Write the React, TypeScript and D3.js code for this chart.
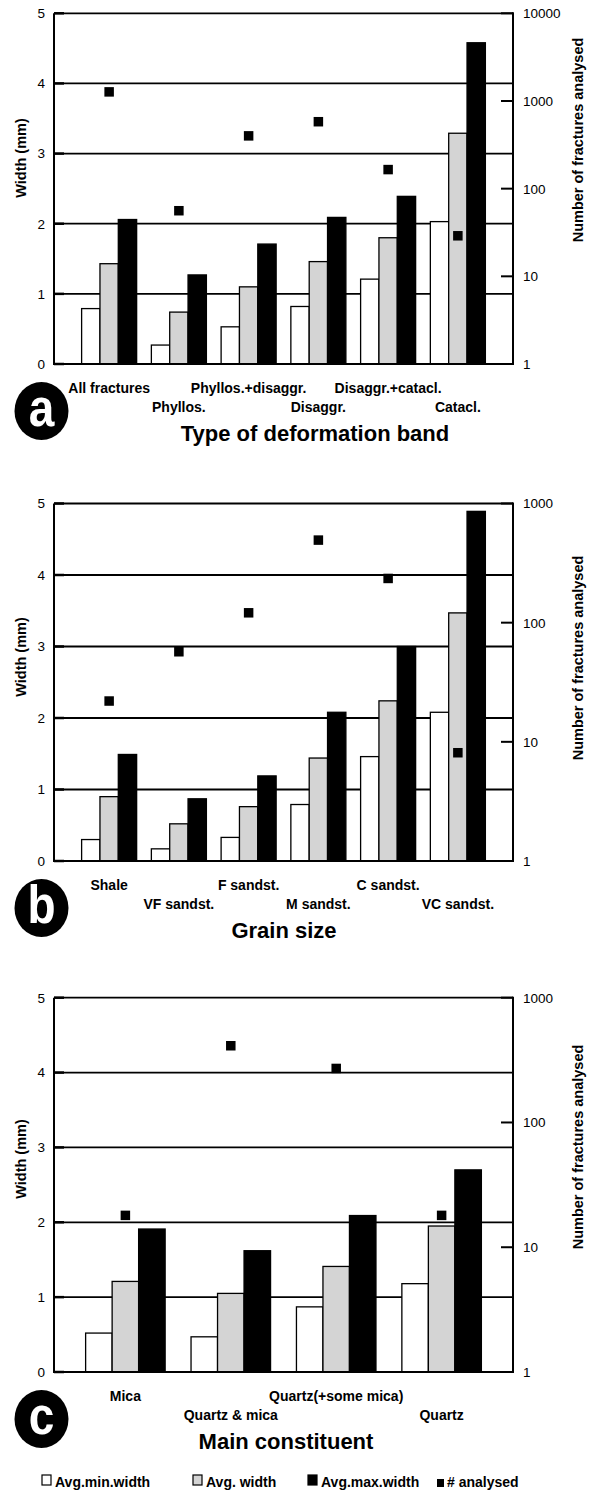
import React from "react";
import * as d3 from "d3";

// panel a: type of deformation band
const bandTypes = ["All fractures", "Phyllos.", "Phyllos.+disaggr.", "Disaggr.", "Disaggr.+catacl.", "Catacl."];
const bandMin = [0.79, 0.27, 0.53, 0.82, 1.21, 2.03];
const bandAvg = [1.43, 0.74, 1.1, 1.46, 1.8, 3.29];
const bandMax = [2.06, 1.27, 1.71, 2.09, 2.39, 4.58];
const bandCount = [1270, 56, 400, 580, 165, 29];

// panel b: grain size
const grainSizes = ["Shale", "VF sandst.", "F sandst.", "M sandst.", "C sandst.", "VC sandst."];
const grainMin = [0.3, 0.17, 0.33, 0.79, 1.46, 2.08];
const grainAvg = [0.9, 0.52, 0.76, 1.44, 2.24, 3.47];
const grainMax = [1.49, 0.87, 1.19, 2.08, 3.0, 4.89];
const grainCount = [22, 57, 121, 493, 235, 8.1];

// panel c: main constituent
const constituents = ["Mica", "Quartz & mica", "Quartz(+some mica)", "Quartz"];
const constMin = [0.52, 0.47, 0.87, 1.18];
const constAvg = [1.21, 1.05, 1.41, 1.95];
const constMax = [1.91, 1.62, 2.09, 2.7];
const constCount = [18, 412, 271, 18];

const seriesNames = ["Avg.min.width", "Avg. width", "Avg.max.width", "# analysed"];
const seriesFills = ["#ffffff", "#d4d4d4", "#000000"];
const widthTicks = [0, 1, 2, 3, 4, 5];
const countTicks4 = [1, 10, 100, 1000, 10000];
const countTicks3 = [1, 10, 100, 1000];

const FONT = "'Liberation Sans', Arial, Helvetica, sans-serif";
const X0 = 54;
const X1 = 513;

function Panel(props: any) {
  const { cats, mins, avgs, maxs, counts, top, bottom, cTicks, pi, po, title, titleX, letter, leftTitleY, rightTitleY } = props;
  const x = d3.scaleBand().domain(cats).range([X0, X1]).paddingInner(pi).paddingOuter(po);
  const inner = d3.scaleBand().domain(["0", "1", "2"]).range([0, x.bandwidth()]);
  const y = d3.scaleLinear().domain([0, 5]).range([bottom, top]);
  const yR = d3.scaleLog().domain([1, cTicks[cTicks.length - 1]]).range([bottom, top]);
  const series = [mins, avgs, maxs];
  const cx = (c: string) => (x(c) as number) + x.bandwidth() / 2;
  const m = 9.5;
  const cy = bottom + 47;

  return (
    <g fontFamily={FONT}>
      {widthTicks.slice(1).map((t) => (
        <line key={"g" + t} x1={X0} x2={X1} y1={y(t)} y2={y(t)} stroke="#000" strokeWidth={1.8} />
      ))}
      {cats.map((c: string, i: number) =>
        series.map((s: number[], k: number) => (
          <rect
            key={c + k}
            x={(x(c) as number) + (inner(String(k)) as number)}
            y={y(s[i])}
            width={inner.bandwidth()}
            height={bottom - y(s[i])}
            fill={seriesFills[k]}
            stroke="#000"
            strokeWidth={1.3}
          />
        ))
      )}
      {cats.map((c: string, i: number) => (
        <rect key={"m" + c} x={cx(c) - m / 2} y={yR(counts[i]) - m / 2} width={m} height={m} fill="#000" />
      ))}
      <line x1={X0} x2={X0} y1={top} y2={bottom} stroke="#000" strokeWidth={2} />
      <line x1={X1} x2={X1} y1={top - 1} y2={bottom} stroke="#000" strokeWidth={2} />
      <line x1={X0 - 1} x2={X1 + 1} y1={bottom} y2={bottom} stroke="#000" strokeWidth={2} />
      {widthTicks.map((t) => (
        <g key={"l" + t}>
          <line x1={X0} x2={X0 + 10} y1={y(t)} y2={y(t)} stroke="#000" strokeWidth={2.5} />
          <text x={45} y={y(t)} dy="0.36em" textAnchor="end" fontSize={13.5}>{t}</text>
        </g>
      ))}
      {cTicks.map((t: number) => (
        <g key={"r" + t}>
          <line x1={X1 - 12} x2={X1} y1={yR(t)} y2={yR(t)} stroke="#000" strokeWidth={2} />
          <text x={523} y={yR(t)} dy="0.36em" textAnchor="start" fontSize={13.5}>{t}</text>
        </g>
      ))}
      {cats.map((c: string, i: number) => (
        <text key={"t" + c} x={cx(c)} y={bottom + (i % 2 === 0 ? 29 : 48)} textAnchor="middle" fontSize={14} fontWeight="bold">
          {c}
        </text>
      ))}
      <text x={titleX} y={bottom + 77} textAnchor="middle" fontSize={22} fontWeight="bold">{title}</text>
      <text transform={`translate(26,${leftTitleY}) rotate(-90)`} textAnchor="middle" fontSize={14.5} fontWeight="bold">Width (mm)</text>
      <text transform={`translate(583,${rightTitleY}) rotate(-90)`} textAnchor="middle" fontSize={14.5} fontWeight="bold">
        Number of fractures analysed
      </text>
      <ellipse cx={41.5} cy={cy} rx={27} ry={29} fill="#000" />
      <text transform={`translate(41.5,${cy + 15}) scale(1,1.15)`} textAnchor="middle" fontSize={46} fontWeight="bold" fill="#fff">{letter}</text>
    </g>
  );
}

export default function App() {
  const ly = 1487;
  const legendX = [42, 193, 308, 437];
  return (
    <svg width={595} height={1492} style={{ position: "absolute", left: 0, top: 0, background: "#fff" }}>
      <rect width={595} height={1492} fill="#fff" />
      <Panel cats={bandTypes} mins={bandMin} avgs={bandAvg} maxs={bandMax} counts={bandCount}
        top={13.3} bottom={364} cTicks={countTicks4} pi={0.211} po={0.396}
        title="Type of deformation band" titleX={315} letter="a" leftTitleY={158} rightTitleY={140} />
      <Panel cats={grainSizes} mins={grainMin} avgs={grainAvg} maxs={grainMax} counts={grainCount}
        top={503.5} bottom={861} cTicks={countTicks3} pi={0.211} po={0.396}
        title="Grain size" titleX={284} letter="b" leftTitleY={657} rightTitleY={658} />
      <Panel cats={constituents} mins={constMin} avgs={constAvg} maxs={constMax} counts={constCount}
        top={997.7} bottom={1372} cTicks={countTicks3} pi={0.2457} po={0.3}
        title="Main constituent" titleX={286} letter="c" leftTitleY={1159} rightTitleY={1147} />
      <g fontFamily={FONT} fontSize={14} fontWeight="bold">
        {seriesNames.map((s, i) => (
          <g key={s}>
            {i < 3 ? (
              <rect x={legendX[i]} y={ly - 12} width={9} height={10} fill={seriesFills[i]} stroke="#000" strokeWidth={1.2} />
            ) : (
              <rect x={legendX[i]} y={ly - 8} width={7} height={8} fill="#000" />
            )}
            <text x={legendX[i] + (i < 3 ? 13 : 10)} y={ly}>{s}</text>
          </g>
        ))}
      </g>
    </svg>
  );
}
